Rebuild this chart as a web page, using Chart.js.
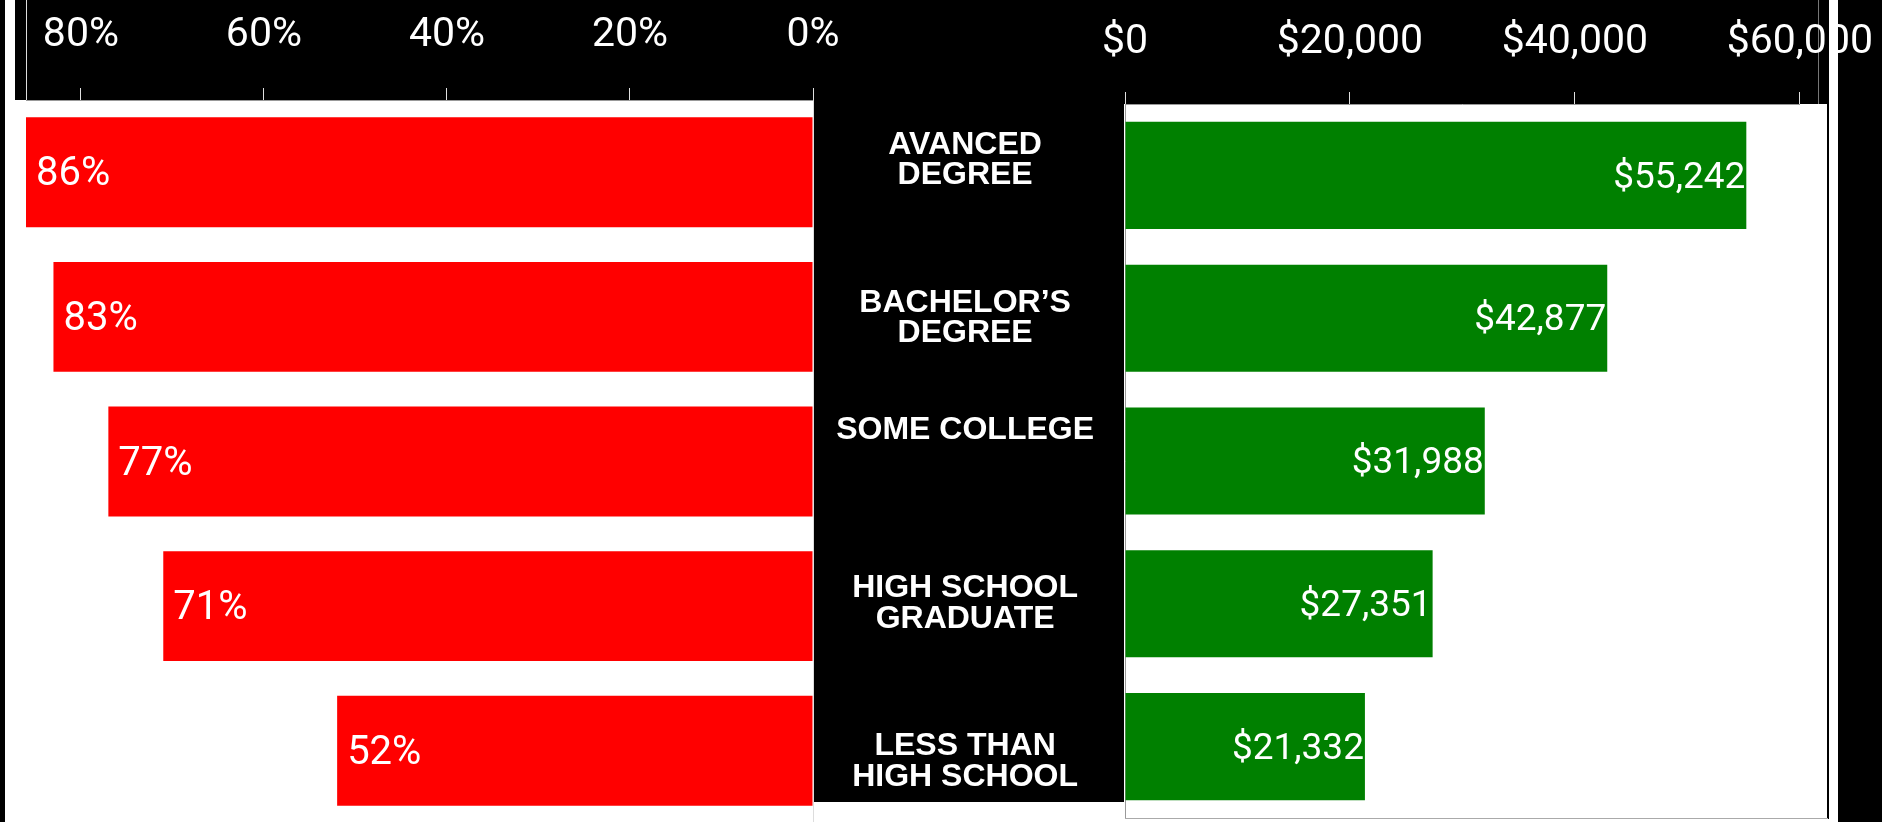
<!DOCTYPE html>
<html>
<head>
<meta charset="utf-8">
<script src="https://cdn.jsdelivr.net/npm/chart.js@4.4.1/dist/chart.umd.min.js"></script>
<style>
  html, body { margin: 0; padding: 0; background: #fff; width: 1898px; height: 822px; overflow: hidden; }
  .blk { position: absolute; background: #000; }
  canvas { position: absolute; top: 0; }
  #shareChart { left: 0; z-index: 2; }
  #earnChart { left: 814px; z-index: 3; }
  .over { position: absolute; z-index: 5; }
</style>
</head>
<body>

<!-- frame pieces of the original layout -->
<div class="blk" style="left:0;top:0;width:5px;height:822px"></div>
<div class="blk" style="left:15px;top:0;width:1109px;height:100px"></div>
<div class="blk" style="left:1124px;top:0;width:705px;height:104px"></div>
<div class="blk" style="left:814px;top:0;width:310px;height:802px"></div>
<div class="blk" style="left:1838px;top:0;width:44px;height:822px"></div>
<div style="position:absolute;left:26px;top:0;width:1px;height:100px;background:#ddd"></div>
<div style="position:absolute;left:1818px;top:0;width:1px;height:104px;background:#777"></div>

<canvas id="shareChart" width="900" height="826"></canvas>
<canvas id="earnChart" width="1084" height="822"></canvas>

<div class="over" style="left:1829px;top:0;width:9px;height:822px;background:#fff"></div>
<div class="over" style="left:1827px;top:104px;width:2px;height:715px;background:#000"></div>
<div class="over" style="left:1125px;top:818px;width:703px;height:1px;background:#aaa"></div>

<script>
// ================= DATA =================

// blank lines only nudge the label blocks the way the original sits
const categories = [
  ["AVANCED", "DEGREE", ""],
  ["BACHELOR’S", "DEGREE"],
  ["SOME COLLEGE", "", ""],
  ["HIGH SCHOOL", "GRADUATE"],
  ["", "LESS THAN", "HIGH SCHOOL"]
];
const employmentRate = [86, 83, 77, 71, 52];
const medianEarnings = [55242, 42877, 31988, 27351, 21332];
const rateTicks = [0, 20, 40, 60, 80];
const earningsTicks = [0, 20000, 40000, 60000];

Chart.defaults.font.family = "Roboto, 'Liberation Sans', sans-serif";

const tickFont = { family: "Roboto", size: 41, weight: "normal" };

function money(v) {
  return "$" + Number(v).toLocaleString("en-US");
}

// draws the value inside each bar
function valueLabels(align, offset, font, format) {
  return {
    id: "valueLabels",
    afterDatasetsDraw(chart) {
      const ctx = chart.ctx;
      const meta = chart.getDatasetMeta(0);
      const data = chart.data.datasets[0].data;
      ctx.save();
      ctx.fillStyle = "#fff";
      ctx.font = font;
      ctx.textBaseline = "middle";
      ctx.textAlign = align;
      meta.data.forEach((bar, i) => {
        const x = align === "left" ? bar.x + offset : bar.x - offset;
        ctx.fillText(format(data[i]), x, bar.y + 3);
      });
      ctx.restore();
    }
  };
}

// ================= LEFT: EMPLOYMENT RATE =================

new Chart(document.getElementById("shareChart"), {
  type: "bar",
  data: {
    labels: categories,
    datasets: [{
      data: employmentRate,
      backgroundColor: "#ff0000",
      barPercentage: 0.76,
      categoryPercentage: 1
    }]
  },
  options: {
    indexAxis: "y",
    responsive: false,
    animation: false,
    layout: { padding: { left: 26, right: 87, top: 0, bottom: 3 } },
    plugins: { legend: { display: false }, tooltip: { enabled: false } },
    scales: {
      x: {
        position: "top",
        reverse: true,
        min: 0,
        max: 86,
        afterBuildTicks: (s) => { s.ticks = rateTicks.map(v => ({ value: v })); },
        afterFit: (s) => { s.height = 100; },
        grid: { drawOnChartArea: false, drawTicks: true, tickLength: 12, color: "#e0e0e0" },
        border: { color: "#999" },
        ticks: {
          color: "#fff",
          padding: 28,
          font: tickFont,
          maxRotation: 0,
          autoSkip: false,
          callback: (v) => v + "%"
        }
      },
      y: {
        position: "right",
        afterFit: (s) => { s.width = 0; s.paddingTop = 0; s.paddingBottom = 0; },
        grid: { display: false, drawTicks: false },
        border: { color: "#ddd" },
        ticks: { display: false }
      }
    }
  },
  plugins: [valueLabels("left", 10, "40px Roboto", v => v + "%")]
});

// ================= RIGHT: MEDIAN EARNINGS =================

new Chart(document.getElementById("earnChart"), {
  type: "bar",
  data: {
    labels: categories,
    datasets: [{
      data: medianEarnings,
      backgroundColor: "#008000",
      barPercentage: 0.75,
      categoryPercentage: 1
    }]
  },
  options: {
    indexAxis: "y",
    responsive: false,
    animation: false,
    layout: { padding: { left: 0, right: 75, top: 0, bottom: 4 } },
    plugins: { legend: { display: false }, tooltip: { enabled: false } },
    scales: {
      x: {
        position: "top",
        min: 0,
        max: 60000,
        afterBuildTicks: (s) => { s.ticks = earningsTicks.map(v => ({ value: v })); },
        afterFit: (s) => { s.height = 104; },
        grid: { drawOnChartArea: false, drawTicks: true, tickLength: 12, color: "#e0e0e0" },
        border: { color: "#999" },
        ticks: {
          color: "#fff",
          padding: 25,
          font: tickFont,
          maxRotation: 0,
          autoSkip: false,
          callback: (v) => money(v)
        }
      },
      y: {
        position: "left",
        afterFit: (s) => { s.width = 311; s.paddingTop = 0; s.paddingBottom = 0; },
        grid: { display: false, drawTicks: false },
        border: { color: "#999" },
        ticks: {
          color: "#fff",
          padding: 31,
          crossAlign: "center",
          autoSkip: false,
          font: { family: "'Liberation Sans', Arial, sans-serif", size: 32, weight: "bold", lineHeight: 0.95 }
        }
      }
    }
  },
  plugins: [valueLabels("right", 1, "37px Roboto", money)]
});
</script>
</body>
</html>
